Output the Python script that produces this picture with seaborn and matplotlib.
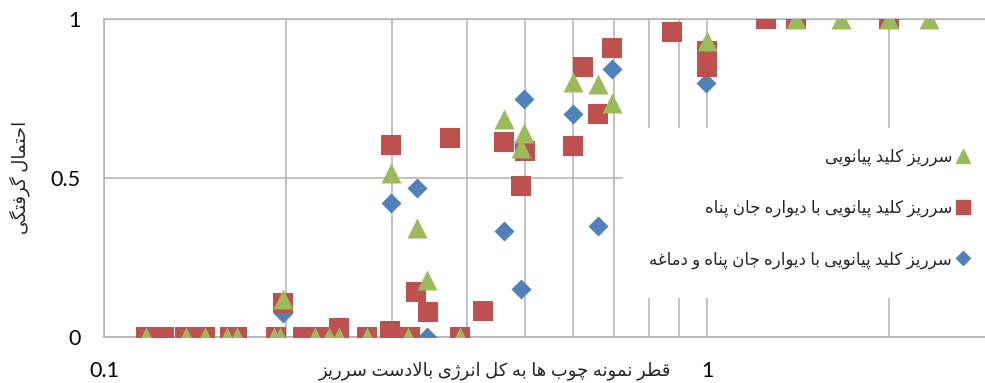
import matplotlib
matplotlib.use("Agg")
import matplotlib.pyplot as plt
import pandas as pd
import seaborn as sns
from matplotlib.lines import Line2D
from matplotlib.patches import Rectangle
from matplotlib.ticker import FixedLocator, LogLocator, NullFormatter

# Piano key weir, no extra parts
pk_x = [0.1173, 0.1368, 0.1472, 0.1597, 0.166, 0.1913, 0.1958, 0.2239, 0.2361, 0.2453,
        0.2727, 0.3197, 0.3894, 0.1979, 0.2992, 0.3301, 0.3438, 0.4612, 0.4973, 0.4916,
        0.5987, 0.6587, 0.6969, 1.0, 1.403, 1.666, 2.0, 2.335]
pk_y = [0, 0, 0, 0, 0, 0, 0, 0, 0, 0,
        0, 0, 0, 0.12, 0.515, 0.344, 0.18, 0.687, 0.64, 0.593,
        0.803, 0.797, 0.737, 0.932, 1, 1, 1, 1]

# Piano key weir with parapet wall
wall_x = [0.1173, 0.1259, 0.1364, 0.1472, 0.1616, 0.1663, 0.1929, 0.2138, 0.2283, 0.2727,
          0.3218, 0.3894, 0.2453, 0.2981, 0.1979, 0.2992, 0.3297, 0.3447, 0.3748, 0.4256,
          0.4612, 0.4986, 0.4916, 0.5997, 0.6236, 0.6587, 0.6969, 0.8737, 1.0, 1.0,
          1.252, 1.403, 2.0]
wall_y = [0, 0, 0, 0, 0, 0, 0, 0, 0, 0,
          0, 0, 0.028, 0.02, 0.108, 0.604, 0.14, 0.08, 0.625, 0.083,
          0.614, 0.586, 0.476, 0.60, 0.85, 0.70, 0.908, 0.958, 0.90, 0.85,
          1, 1, 1]

# Piano key weir with parapet wall and nose
nose_x = [0.1929, 0.1979, 0.2992, 0.3301, 0.3438, 0.4612, 0.4916, 0.4973, 0.5987, 0.6587,
          0.6969, 0.998, 0.995]
nose_y = [0, 0.075, 0.42, 0.468, 0, 0.334, 0.151, 0.748, 0.70, 0.35,
          0.843, 0.80, 0.915]

series_labels = [
    "سرریز کلید پیانویی",
    "سرریز کلید پیانویی با دیواره جان پناه",
    "سرریز کلید پیانویی با دیواره جان پناه و دماغه",
]
x_title = "قطر نمونه چوب ها به کل انرژی بالادست سرریز"
y_title = "احتمال گرفتگی"

x_ticks = [0.1, 1]
x_tick_labels = ["0.1", "1"]
y_ticks = [0, 0.5, 1]
y_tick_labels = ["0", "0.5", "1"]

GREEN = "#9BBB59"
RED = "#C0504D"
BLUE = "#4F81BD"
GRID = "#B2B2B2"

# contextual forms: isolated, final, initial, medial
FORMS = {
    "ا": ("\uFE8D", "\uFE8E", None, None),
    "ب": ("\uFE8F", "\uFE90", "\uFE91", "\uFE92"),
    "پ": ("\uFB56", "\uFB57", "\uFB58", "\uFB59"),
    "ت": ("\uFE95", "\uFE96", "\uFE97", "\uFE98"),
    "ج": ("\uFE9D", "\uFE9E", "\uFE9F", "\uFEA0"),
    "چ": ("\uFB7A", "\uFB7B", "\uFB7C", "\uFB7D"),
    "ح": ("\uFEA1", "\uFEA2", "\uFEA3", "\uFEA4"),
    "د": ("\uFEA9", "\uFEAA", None, None),
    "ر": ("\uFEAD", "\uFEAE", None, None),
    "ز": ("\uFEAF", "\uFEB0", None, None),
    "ژ": ("\uFB8A", "\uFB8B", None, None),
    "س": ("\uFEB1", "\uFEB2", "\uFEB3", "\uFEB4"),
    "ط": ("\uFEC1", "\uFEC2", "\uFEC3", "\uFEC4"),
    "غ": ("\uFECD", "\uFECE", "\uFECF", "\uFED0"),
    "ف": ("\uFED1", "\uFED2", "\uFED3", "\uFED4"),
    "ق": ("\uFED5", "\uFED6", "\uFED7", "\uFED8"),
    "ک": ("\uFB8E", "\uFB8F", "\uFB90", "\uFB91"),
    "گ": ("\uFB92", "\uFB93", "\uFB94", "\uFB95"),
    "ل": ("\uFEDD", "\uFEDE", "\uFEDF", "\uFEE0"),
    "م": ("\uFEE1", "\uFEE2", "\uFEE3", "\uFEE4"),
    "ن": ("\uFEE5", "\uFEE6", "\uFEE7", "\uFEE8"),
    "ه": ("\uFEE9", "\uFEEA", "\uFEEB", "\uFEEC"),
    "و": ("\uFEED", "\uFEEE", None, None),
    "ی": ("\uFBFC", "\uFBFD", "\uFBFE", "\uFBFF"),
}


def _joins_forward(ch):
    return ch in FORMS and FORMS[ch][2] is not None


def rtl(text):
    """Pick joined letter forms and lay the line out right to left."""
    out = []
    i, n = 0, len(text)
    while i < n:
        ch = text[i]
        if ch not in FORMS:
            out.append(ch)
            i += 1
            continue
        link_prev = i > 0 and _joins_forward(text[i - 1])
        if ch == "ل" and i + 1 < n and text[i + 1] == "ا":
            out.append("\uFEFC" if link_prev else "\uFEFB")
            i += 2
            continue
        link_next = _joins_forward(ch) and i + 1 < n and text[i + 1] in FORMS
        iso, fin, ini, med = FORMS[ch]
        if link_prev and link_next:
            out.append(med)
        elif link_prev:
            out.append(fin)
        elif link_next:
            out.append(ini)
        else:
            out.append(iso)
        i += 1
    return "".join(reversed(out))


sns.set_style("white")
plt.rcParams["font.family"] = ["Lato", "DejaVu Sans"]

W, H = 985, 383
fig = plt.figure(figsize=(W / 100, H / 100), dpi=100)
ax = fig.add_axes([104 / W, 46 / H, 881 / W, 318 / H])

df_nose = pd.DataFrame({"x": nose_x, "y": nose_y})
df_wall = pd.DataFrame({"x": wall_x, "y": wall_y})
df_pk = pd.DataFrame({"x": pk_x, "y": pk_y})

sns.scatterplot(data=df_nose, x="x", y="y", ax=ax, marker="D", s=104,
                color=BLUE, linewidth=0, zorder=3, legend=False)
sns.scatterplot(data=df_wall, x="x", y="y", ax=ax, marker="s", s=207,
                color=RED, linewidth=0, zorder=4, legend=False)
sns.scatterplot(data=df_pk, x="x", y="y", ax=ax, marker="^", s=207,
                color=GREEN, linewidth=0, zorder=5, legend=False)

ax.set_xscale("log")
ax.set_xlim(0.1, 10 ** ((W - 104) / 603 - 1))
ax.set_ylim(0, 1)

ax.xaxis.set_major_locator(FixedLocator(x_ticks))
ax.set_xticklabels(x_tick_labels)
ax.xaxis.set_minor_locator(LogLocator(base=10, subs=range(2, 10)))
ax.xaxis.set_minor_formatter(NullFormatter())
ax.set_yticks(y_ticks)
ax.set_yticklabels(y_tick_labels)
ax.tick_params(axis="both", which="both", length=0, labelsize=15.5,
               colors="black", pad=17)

ax.set_axisbelow(True)
ax.xaxis.grid(True, which="both", color=GRID, linewidth=1.1)
ax.yaxis.grid(True, which="major", color=GRID, linewidth=1.1)
for side in ("left", "bottom", "top"):
    ax.spines[side].set_color(GRID)
    ax.spines[side].set_linewidth(1.1)
ax.spines["right"].set_visible(False)

ax.set_xlabel(rtl(x_title), fontsize=13, va="center")
ax.xaxis.set_label_coords((494.5 - 104) / 881, (337 - 371) / 318)
ax.set_ylabel(rtl(y_title), fontsize=13, va="center")
ax.yaxis.set_label_coords((20 - 104) / 881, (337 - 177) / 318)

# blank panel behind the legend
ax.add_patch(Rectangle((623 / W, (H - 298) / H), (W - 623) / W, 170 / H,
                       transform=fig.transFigure, facecolor="white",
                       edgecolor="none", zorder=1, clip_on=False))

handles = [
    Line2D([], [], linestyle="none", marker="^", markersize=10, color=GREEN),
    Line2D([], [], linestyle="none", marker="s", markersize=9.5, color=RED),
    Line2D([], [], linestyle="none", marker="D", markersize=7, color=BLUE),
]
fig.legend(handles, [rtl(t) for t in series_labels], loc="upper right",
           bbox_to_anchor=(978 / W, (H - 140) / H), markerfirst=False,
           frameon=False, fontsize=12, handlelength=0.8, handletextpad=0.25,
           labelspacing=2.05, borderpad=0)

fig.savefig("out.png", dpi=100)
